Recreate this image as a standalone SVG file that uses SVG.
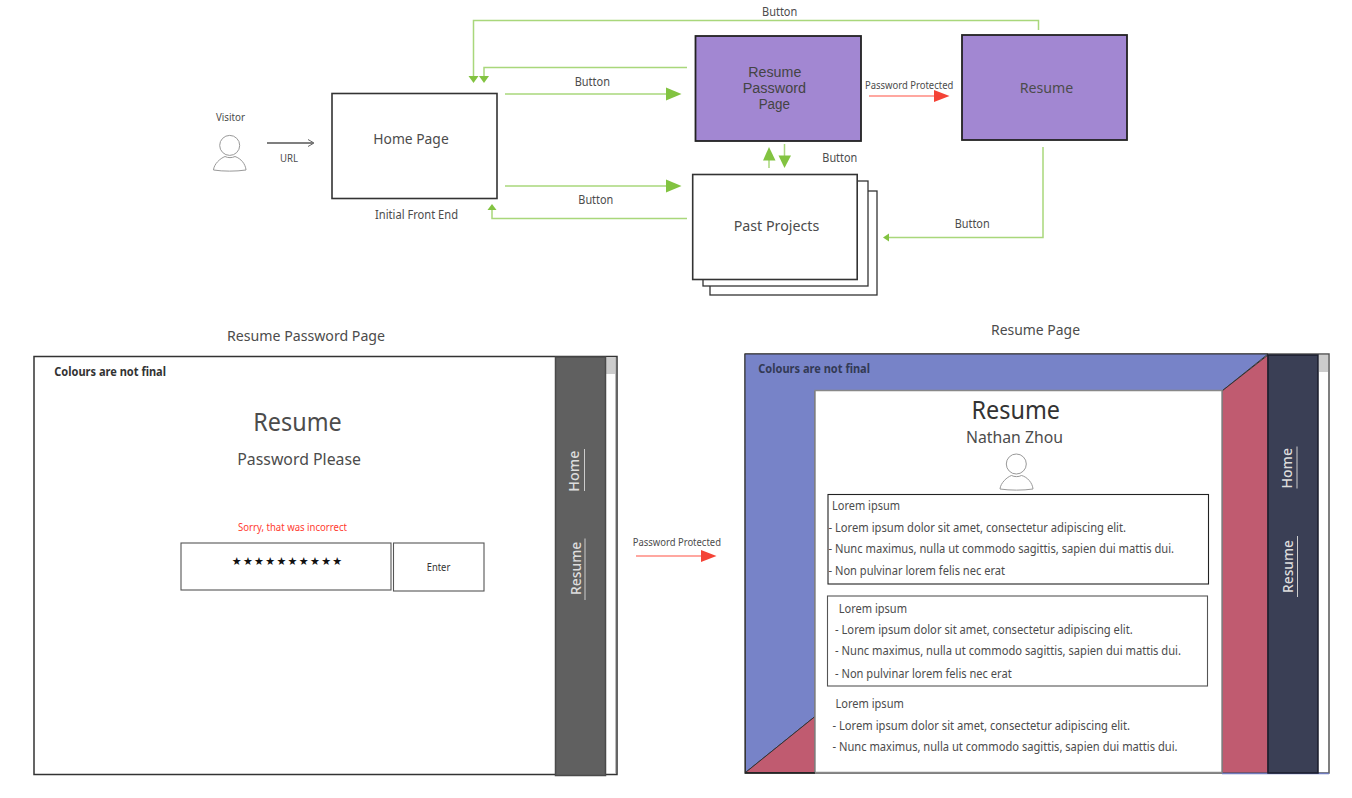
<svg xmlns="http://www.w3.org/2000/svg" width="1352" height="798" viewBox="0 0 1352 798">
<style>
text{font-family:"Noto Sans","Open Sans","Liberation Sans",sans-serif;fill:#4c4c4c;font-size:12px}
.s{font-size:10px}
.m{font-size:15px}
.t{font-family:"Liberation Sans",sans-serif;font-size:13.8px;fill:#444}
.b{font-weight:700;fill:#333}
.k{fill:#fff;stroke:#333;stroke-width:1.6}
.p{fill:#a287d2;stroke:#222;stroke-width:1.8}
.f{fill:#fff;stroke:#555;stroke-width:1.1}
.g{fill:none;stroke:#a9d77b;stroke-width:1.5}
.gh{fill:#82c341;stroke:none}
.r{fill:none;stroke:#ff8a80;stroke-width:1.5}
.rh{fill:#f44336;stroke:none}
.u{fill:#fff;stroke:#999;stroke-width:1}
.n{fill:#ddd;font-size:15px;font-weight:500}
.l{stroke:#ccc;stroke-width:1}
</style>
<rect width="1352" height="798" fill="#fff"/>
<g id="connectors">
<path class="g" d="M1038.500 30V20.500H473.500V77"/><path class="gh" d="M468.500 76H478.500L473.500 83Z"/>
<path class="g" d="M687 67.500H484V77"/><path class="gh" d="M479 76H489L484 83Z"/>
<path class="g" d="M505 94H668"/><path class="gh" d="M666 87.500L681.500 94L666 100.500Z"/>
<path class="g" d="M505 186H668"/><path class="gh" d="M666 179.500L681.500 186L666 192.500Z"/>
<path class="g" d="M687 218.500H492V210"/><path class="gh" d="M487.500 210H496.500L492 204Z"/>
<path class="g" d="M769 168V158"/><path class="gh" d="M763 160.500H775.500L769 147Z"/>
<path class="g" d="M784.500 144V157"/><path class="gh" d="M778.500 155.500H791L784.500 168Z"/>
<path class="g" d="M1043 147V237.500H888"/><path class="gh" d="M889 233.500V241.500L883 237.500Z"/>
<path class="r" d="M869 96H936"/><path class="rh" d="M934 90L949.500 96L934 102Z"/>
<path class="r" d="M636 556H703"/><path class="rh" d="M701 550L716.500 556L701 562Z"/>
<path d="M267 143H313" fill="none" stroke="#555" stroke-width="1.4"/>
<path d="M308 139.500L314 143L308 146.500" fill="none" stroke="#666" stroke-width="1"/>
</g>
<g id="visitor">
<text class="s" x="216" y="121" textLength="29" lengthAdjust="spacingAndGlyphs">Visitor</text>
<circle class="u" cx="229.700" cy="145.400" r="10"/>
<path class="u" d="M213.500 170C214 164 220 158.500 225 156.500C228 158 232 158 235 156.500C241 158.500 245.500 164 246 170C236 171.500 223 171.500 213.500 170Z"/>
</g>
<text id="url-label" class="s" x="280" y="162" textLength="18" lengthAdjust="spacingAndGlyphs">URL</text>
<g id="home-page">
<rect class="k" x="332" y="93.500" width="165" height="105"/>
<text class="m" x="373.300" y="144" textLength="75.400" lengthAdjust="spacingAndGlyphs">Home Page</text>
<text x="375" y="219" textLength="83" lengthAdjust="spacingAndGlyphs">Initial Front End</text>
</g>
<g id="resume-password-node">
<rect class="p" x="695.500" y="36" width="165.500" height="105"/>
<text class="t" x="748.300" y="77.300" textLength="53" lengthAdjust="spacingAndGlyphs">Resume</text>
<text class="t" x="742.700" y="93.300" textLength="63.300" lengthAdjust="spacingAndGlyphs">Password</text>
<text class="t" x="758.700" y="109.300" textLength="31.300" lengthAdjust="spacingAndGlyphs">Page</text>
</g>
<g id="resume-node">
<rect class="p" x="962" y="35" width="165" height="105"/>
<text class="m" x="1019.700" y="93.300" textLength="53.600" lengthAdjust="spacingAndGlyphs">Resume</text>
</g>
<g id="past-projects">
<rect class="k" x="710" y="191" width="167" height="104" style="stroke-width:1.3"/>
<rect class="k" x="703" y="181" width="165" height="105" style="stroke-width:1.3"/>
<rect class="k" x="692.700" y="174.500" width="164.500" height="105"/>
<text class="m" x="733.700" y="231" textLength="85.600" lengthAdjust="spacingAndGlyphs">Past Projects</text>
</g>
<g id="connector-labels">
<text x="762" y="16" textLength="35.300" lengthAdjust="spacingAndGlyphs">Button</text>
<text x="574.700" y="86" textLength="35.300" lengthAdjust="spacingAndGlyphs">Button</text>
<text x="578.300" y="204" textLength="35" lengthAdjust="spacingAndGlyphs">Button</text>
<text x="822.300" y="162" textLength="35" lengthAdjust="spacingAndGlyphs">Button</text>
<text x="954.700" y="228" textLength="35" lengthAdjust="spacingAndGlyphs">Button</text>
<text class="s" x="865" y="89" textLength="88.300" lengthAdjust="spacingAndGlyphs">Password Protected</text>
<text class="s" x="632.700" y="546" textLength="88.300" lengthAdjust="spacingAndGlyphs">Password Protected</text>
</g>
<g id="password-page">
<text class="m" x="227" y="341" textLength="158" lengthAdjust="spacingAndGlyphs">Resume Password Page</text>
<rect x="34" y="356.500" width="583" height="418" fill="#fff" stroke="#333" stroke-width="1.5"/>
<path d="M615.500 357V774" stroke="#bbb" stroke-width="1"/>
<rect x="606" y="357" width="9" height="17" fill="#ccc"/>
<rect x="555.500" y="357" width="50" height="418.500" fill="#606060" stroke="#4a4a4a" stroke-width="1.500"/>
<text class="b" x="54.300" y="376" textLength="111.700" lengthAdjust="spacingAndGlyphs">Colours are not final</text>
<text x="253.300" y="431" style="font-size:25px" textLength="88.400" lengthAdjust="spacingAndGlyphs">Resume</text>
<text x="237.300" y="465" style="font-size:17px" textLength="123.700" lengthAdjust="spacingAndGlyphs">Password Please</text>
<text x="238" y="531" style="font-size:11px;fill:#ff3b30" textLength="109" lengthAdjust="spacingAndGlyphs">Sorry, that was incorrect</text>
<rect class="f" x="181" y="543" width="210" height="47"/>
<text x="231.700" y="565" style="font-family:'DejaVu Sans',sans-serif;font-size:11px;fill:#111" textLength="110.500">★★★★★★★★★★</text>
<rect class="f" x="393.500" y="543" width="90.500" height="48"/>
<text class="s" x="426.700" y="571" style="fill:#333" textLength="23.600" lengthAdjust="spacingAndGlyphs">Enter</text>
<text class="n" transform="translate(579.300 491.700) rotate(-90)" textLength="41" lengthAdjust="spacingAndGlyphs">Home</text>
<path class="l" d="M584.500 449V491"/>
<text class="n" transform="translate(580.700 595) rotate(-90)" textLength="53.300" lengthAdjust="spacingAndGlyphs">Resume</text>
<path class="l" d="M585 538.500V600"/>
</g>
<g id="resume-page">
<text class="m" x="991" y="335" textLength="89" lengthAdjust="spacingAndGlyphs">Resume Page</text>
<rect x="745" y="354" width="584" height="419" fill="#fff" stroke="#555" stroke-width="1.500"/>
<path d="M745 354H1268L1222 391H815V716.500L745.500 772.500Z" fill="#7783c8" stroke="#333" stroke-width="1"/>
<path d="M745.500 772.500L815 716.500V772.500Z" fill="#c05b70" stroke="#333" stroke-width="1"/>
<path d="M1222 391L1268 355V773H1222Z" fill="#c05b70" stroke="#333" stroke-width="1"/>
<rect x="815" y="390.500" width="407" height="382" fill="#fff" stroke="#888" stroke-width="1.500"/>
<path d="M745 773H815" stroke="#222" stroke-width="1.500"/>
<path d="M1222 773.500H1329" stroke="#6f7bbd" stroke-width="1.500"/>
<rect x="1319" y="355" width="9" height="17" fill="#ccc"/>
<rect x="1268" y="355" width="50" height="418" fill="#3a3f55" stroke="#1a1d2b" stroke-width="1.500"/>
<text class="b" x="758.300" y="373" style="fill:#333a55" textLength="111.700" lengthAdjust="spacingAndGlyphs">Colours are not final</text>
<text x="971.500" y="419" style="font-size:25px;fill:#333" textLength="88.500" lengthAdjust="spacingAndGlyphs">Resume</text>
<text x="966" y="443" style="font-size:16px" textLength="97" lengthAdjust="spacingAndGlyphs">Nathan Zhou</text>
<circle class="u" cx="1016.300" cy="464" r="10"/>
<path class="u" d="M1000 489C1000.500 483 1007 477 1011.500 475.500C1014.500 477 1018.500 477 1021.500 475.500C1027.500 477 1032.500 483 1033 489C1023 490.500 1010 490.500 1000 489Z"/>
<rect class="f" x="828" y="494.500" width="380.500" height="89.500" style="stroke:#222"/>
<text x="832" y="510" textLength="68" lengthAdjust="spacingAndGlyphs">Lorem ipsum</text>
<text x="828.500" y="532" textLength="297.500" lengthAdjust="spacingAndGlyphs">- Lorem ipsum dolor sit amet, consectetur adipiscing elit.</text>
<text x="828.500" y="553" textLength="345.500" lengthAdjust="spacingAndGlyphs">- Nunc maximus, nulla ut commodo sagittis, sapien dui mattis dui.</text>
<text x="828.500" y="574.500" textLength="176.500" lengthAdjust="spacingAndGlyphs">- Non pulvinar lorem felis nec erat</text>
<rect class="f" x="827.500" y="596" width="380" height="90"/>
<text x="838.700" y="613" textLength="68.300" lengthAdjust="spacingAndGlyphs">Lorem ipsum</text>
<text x="835" y="633.500" textLength="297.700" lengthAdjust="spacingAndGlyphs">- Lorem ipsum dolor sit amet, consectetur adipiscing elit.</text>
<text x="835" y="655" textLength="346" lengthAdjust="spacingAndGlyphs">- Nunc maximus, nulla ut commodo sagittis, sapien dui mattis dui.</text>
<text x="835" y="677.500" textLength="176.700" lengthAdjust="spacingAndGlyphs">- Non pulvinar lorem felis nec erat</text>
<text x="835.500" y="708" textLength="68.300" lengthAdjust="spacingAndGlyphs">Lorem ipsum</text>
<text x="832.500" y="729.500" textLength="297.500" lengthAdjust="spacingAndGlyphs">- Lorem ipsum dolor sit amet, consectetur adipiscing elit.</text>
<text x="832.500" y="751" textLength="345" lengthAdjust="spacingAndGlyphs">- Nunc maximus, nulla ut commodo sagittis, sapien dui mattis dui.</text>
<text class="n" transform="translate(1291.500 488.500) rotate(-90)" textLength="40.500" lengthAdjust="spacingAndGlyphs">Home</text>
<path class="l" d="M1297 446.500V488.500"/>
<text class="n" transform="translate(1292.500 593) rotate(-90)" textLength="53" lengthAdjust="spacingAndGlyphs">Resume</text>
<path class="l" d="M1297.500 536V597"/>
</g>
</svg>
